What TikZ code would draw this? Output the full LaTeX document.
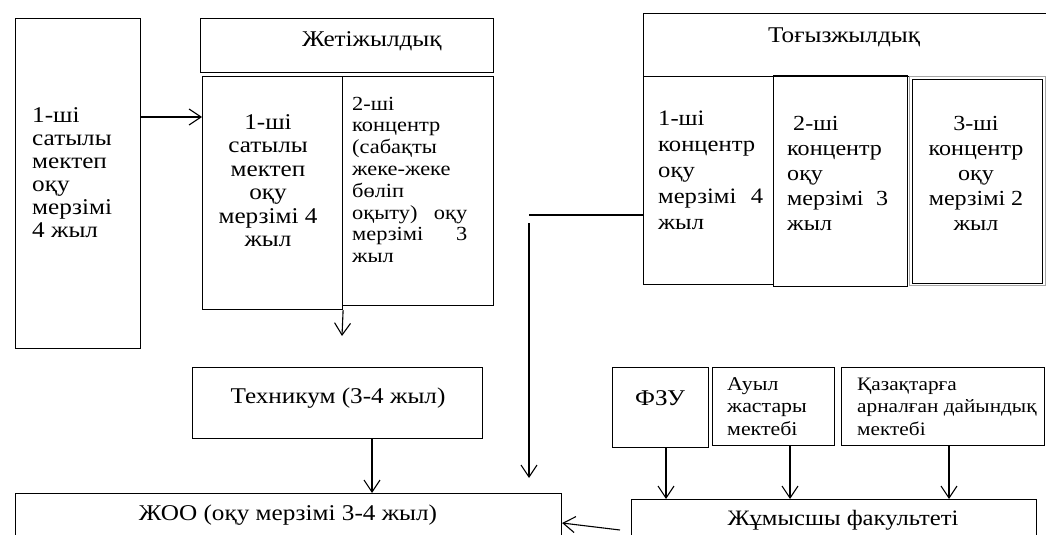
\documentclass[tikz,border=0pt]{standalone}
\usepackage{fontspec}
\setmainfont[FakeStretch=1.12]{Liberation Serif}
\usetikzlibrary{arrows.meta}
\newcommand\mylinesL[1]{\vtop{\halign{##\hfil\cr#1\crcr}}}
\newcommand\mylinesC[1]{\vtop{\halign{\hfil##\hfil\cr#1\crcr}}}
\newcommand\myfs[2]{\fontsize{#1}{#2}\selectfont}
\tikzset{
  box/.style={draw, line width=1.1pt, inner sep=0pt, anchor=north west},
  txt/.style={inner sep=0pt, anchor=base west},
  txtc/.style={inner sep=0pt, anchor=base},
  arr/.style={line width=1.1pt, -{Straight Barb[length=12pt,width=16pt,line width=1.1pt]}},
  conn/.style={line width=1.1pt}
}
\begin{document}
\begin{tikzpicture}[x=1pt,y=-1pt]
\useasboundingbox[fill=white] (0,0) rectangle (1046,535);
% boxes
\node[box, minimum width=125, minimum height=330] (l1) at (15,18) {};
\node[box, minimum width=293, minimum height=54] (jh) at (200,18) {};
\node[box, minimum width=140, minimum height=233] (j1) at (202,76) {};
\node[box, minimum width=151, minimum height=229] (j2) at (342,76) {};
\node[box, minimum width=410, minimum height=63] (th) at (643,13) {};
\node[box, minimum width=130, minimum height=208] (t1) at (643,76) {};
\node[box, minimum width=134, minimum height=211] (t2) at (773,75) {};
\node[box, draw=gray!70, line width=0.8pt, minimum width=136, minimum height=209] (t3o) at (909,76) {};
\node[box, minimum width=130, minimum height=204] (t3) at (912,79) {};
\node[box, minimum width=290, minimum height=71] (tech) at (192,367) {};
\node[box, minimum width=546, minimum height=60] (zhoo) at (15,493) {};
\node[box, minimum width=96, minimum height=80] (fzu) at (612,367) {};
\node[box, minimum width=122, minimum height=78] (auyl) at (712,367) {};
\node[box, minimum width=203, minimum height=78] (kaz) at (841,367) {};
\node[box, minimum width=405, minimum height=60] (zhum) at (631,499) {};
% texts
\node[txt] (l1t) at (32,122) {\myfs{22.5}{23}\mylinesL{1-ші\cr сатылы\cr мектеп\cr оқу\cr мерзімі\cr 4 жыл}};
\node[txt] (jht) at (302,47) {\myfs{22.5}{24}Жетіжылдық};
\node[txtc] (j1t) at (268,129) {\myfs{22.5}{23.5}\mylinesC{1-ші\cr сатылы\cr мектеп\cr оқу\cr мерзімі 4\cr жыл}};
\node[txt] (j2t) at (352,110) {\myfs{20}{21.8}\mylinesL{2-ші\cr концентр\cr (сабақты\cr жеке-жеке\cr бөліп\cr \hbox to 115pt{оқыту)\hfil оқу}\cr \hbox to 115pt{мерзімі\hfil 3}\cr жыл}};
\node[txt] (tht) at (768,43) {\myfs{22.5}{24}Тоғызжылдық};
\node[txt] (t1t) at (658,125) {\myfs{22}{26}\mylinesL{1-ші\cr концентр\cr оқу\cr \hbox to 105pt{мерзімі\hfil 4}\cr жыл}};
\node[txt] (t2t) at (787,130) {\myfs{21.5}{25}\mylinesL{\hspace{6pt}2-ші\cr концентр\cr оқу\cr \hbox to 101pt{мерзімі\hfil 3}\cr жыл}};
\node[txtc] (t3t) at (976,130) {\myfs{21.5}{25}\mylinesC{3-ші\cr концентр\cr оқу\cr мерзімі 2\cr жыл}};
\node[txtc] (techt) at (338,403) {\myfs{22.5}{24}Техникум (3-4 жыл)};
\node[txtc] (zhoot) at (288,520) {\myfs{22.5}{24}ЖОО (оқу мерзімі 3-4 жыл)};
\node[txtc] (fzut) at (660,405) {\myfs{22.5}{24}ФЗУ};
\node[txt] (auylt) at (727,390) {\myfs{19.5}{22.5}\mylinesL{Ауыл\cr жастары\cr мектебі}};
\node[txt] (kazt) at (857,390) {\myfs{19}{22.5}\mylinesL{Қазақтарға\cr арналған дайындық\cr мектебі}};
\node[txtc] (zhumt) at (843,525) {\myfs{22}{24}Жұмысшы факультеті};
% free ends
\coordinate (a2e) at (342,336);
\coordinate (c1) at (529,215);
\coordinate (c2) at (529,223);
\coordinate (c3) at (529,478);
\coordinate (zs) at (620,530);
% connectors
\draw[arr] (l1.east |- 0,117) -- (j1.west |- 0,117);
\draw[arr] (j1.south east) -- (a2e);
\draw[conn] (t1.west |- c1) -- (c1);
\draw[arr] (c2) -- (c3);
\draw[arr] (tech.south -| 372,0) -- (zhoo.north -| 372,0);
\draw[arr] (fzu.south -| 666,0) -- (zhum.north -| 666,0);
\draw[arr] (auyl.south -| 790,0) -- (zhum.north -| 790,0);
\draw[arr] (kaz.south -| 949,0) -- (zhum.north -| 949,0);
\draw[arr] (zs) -- (zhoo.east |- 0,523);
\end{tikzpicture}
\end{document}
